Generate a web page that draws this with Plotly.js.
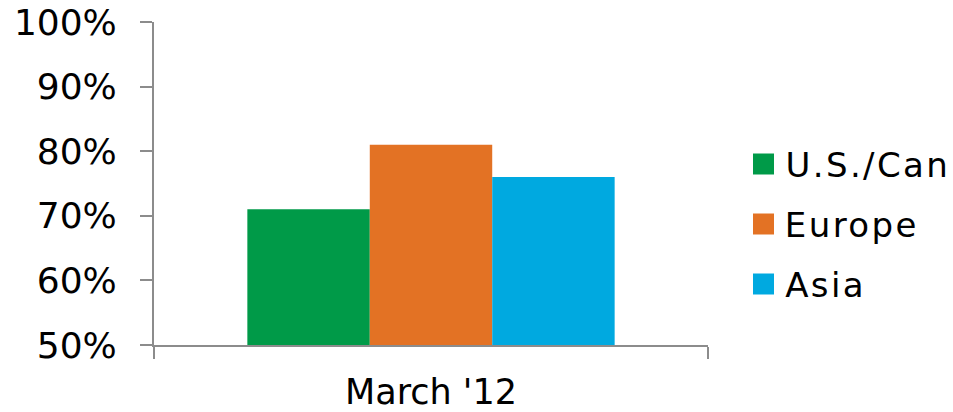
<!DOCTYPE html>
<html>
<head>
<meta charset="utf-8">
<script src="https://cdn.plot.ly/plotly-3.0.1.min.js"></script>
<style>
  html, body { margin: 0; padding: 0; background: #fff; }
  #chart { width: 953px; height: 412px; }
  /* legend labels set a little looser, like the wide humanist face they were set in */
  #chart .annotation-text { letter-spacing: 2.4px; }
</style>
</head>
<body>
<div id="chart"></div>
<script>
// Share by region, March '12
const categories = ["March '12"];
const regions = ["U.S./Can", "Europe", "Asia"];
const shareUS = [0.71];
const shareEurope = [0.81];
const shareAsia = [0.76];
const regionColors = ["#009A48", "#E37224", "#00A9E0"];
const yTickVals = [0.5, 0.6, 0.7, 0.8, 0.9, 1.0];
const yTickText = ["50%", "60%", "70%", "80%", "90%", "100%"];

const seriesValues = [shareUS, shareEurope, shareAsia];
const FONT = "DejaVu Sans, Verdana, sans-serif";
const LEGEND_SPACING = 2.4; // keep in sync with the CSS letter-spacing above

const traces = regions.map((name, i) => ({
  type: "bar",
  name: name,
  x: categories,
  y: seriesValues[i],
  base: 0,
  marker: { color: regionColors[i], line: { width: 0 } },
  showlegend: false,
  hoverinfo: "skip"
}));

// Page geometry
const W = 953, H = 412;
const margin = { l: 154, r: 245, t: 22, b: 67 };
const pw = W - margin.l - margin.r, ph = H - margin.t - margin.b;
const px = (x) => (x - margin.l) / pw;   // pixel -> paper x
const py = (y) => (H - margin.b - y) / ph; // pixel -> paper y

// Hand-built legend: large square swatches with labels on the right
const legendX = 753, legendTop = 164, legendStep = 60, swatch = 21;
const shapes = [];
const annotations = [];
regions.forEach((name, i) => {
  const cy = legendTop + i * legendStep;
  shapes.push({
    type: "rect", xref: "paper", yref: "paper",
    x0: px(legendX), x1: px(legendX + swatch),
    y0: py(cy + swatch / 2), y1: py(cy - swatch / 2),
    fillcolor: regionColors[i], line: { width: 0 }
  });
  annotations.push({
    text: name, showarrow: false,
    xref: "paper", yref: "paper", xanchor: "left", yanchor: "middle",
    x: px(legendX + swatch + 9), y: py(cy + 1),
    // centred text grows both ways with the extra spacing; push it back right
    xshift: name.length * LEGEND_SPACING / 2,
    font: { family: FONT, size: 34, color: "#000" }
  });
});

const layout = {
  width: W, height: H,
  margin: margin,
  paper_bgcolor: "#fff", plot_bgcolor: "#fff",
  barmode: "group",
  bargap: 0.337,
  bargroupgap: 0,
  showlegend: false,
  font: { family: FONT, size: 34, color: "#000" },
  xaxis: {
    type: "category",
    range: [-0.5, 0.5],
    showline: true, linecolor: "#8c8c8c", linewidth: 2,
    ticks: "outside", tickson: "boundaries", ticklen: 12, tickwidth: 2, tickcolor: "#8c8c8c",
    ticklabelstandoff: 15,
    showgrid: false, zeroline: false,
    tickfont: { family: FONT, size: 35, color: "#000" }
  },
  yaxis: {
    range: [0.5, 1.0],
    tickvals: yTickVals, ticktext: yTickText,
    showline: true, linecolor: "#8c8c8c", linewidth: 2,
    ticks: "outside", ticklen: 12, tickwidth: 2, tickcolor: "#8c8c8c",
    ticklabelstandoff: 16,
    showgrid: false, zeroline: false,
    tickfont: { family: FONT, size: 36, color: "#000" }
  },
  shapes: shapes,
  annotations: annotations
};

Plotly.newPlot("chart", traces, layout, { displayModeBar: false, staticPlot: true });
</script>
</body>
</html>
